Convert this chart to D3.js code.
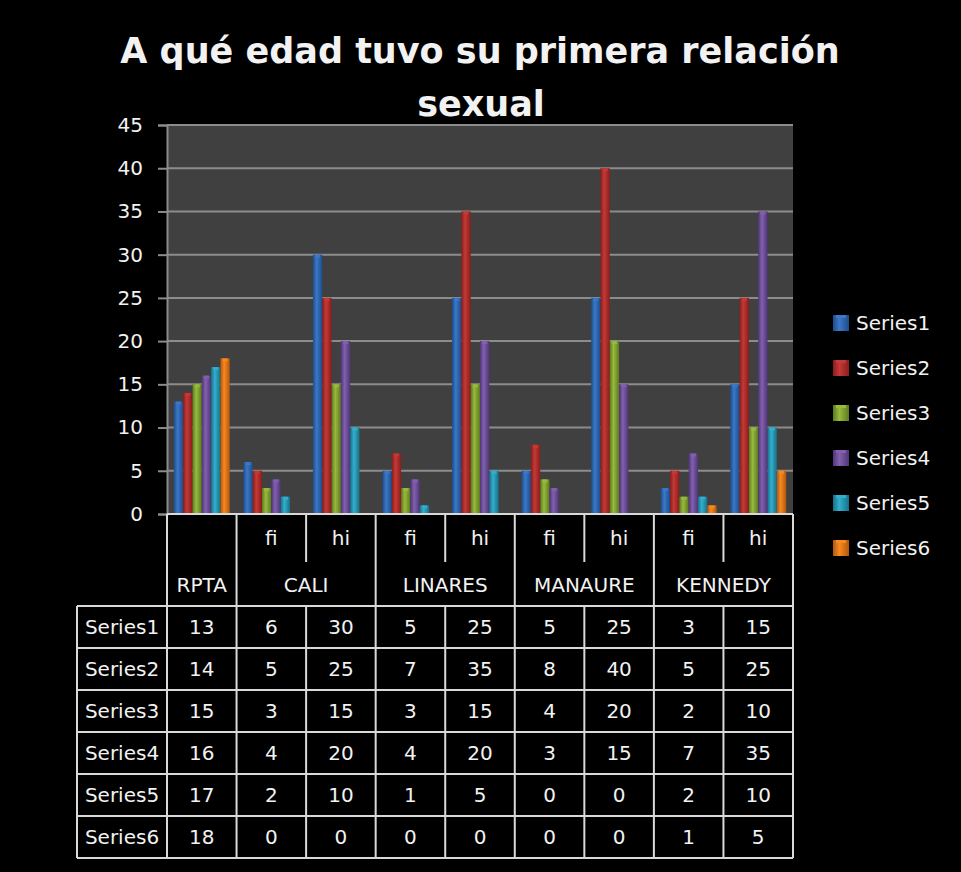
<!DOCTYPE html>
<html>
<head>
<meta charset="utf-8">
<script src="https://cdn.jsdelivr.net/npm/d3@7"></script>
<style>
  body { margin: 0; background: #000; }
  text { font-family: "DejaVu Sans", sans-serif; fill: #f2f2f2; }
</style>
</head>
<body>
<svg id="chart" width="961" height="872"></svg>
<script>
// columns of the chart (one band per column)
var groups = ["RPTA", "CALI", "CALI", "LINARES", "LINARES", "MANAURE", "MANAURE", "KENNEDY", "KENNEDY"];
var subs = ["", "fi", "hi", "fi", "hi", "fi", "hi", "fi", "hi"];
var seriesNames = ["Series1", "Series2", "Series3", "Series4", "Series5", "Series6"];
var series1 = [13, 6, 30, 5, 25, 5, 25, 3, 15];
var series2 = [14, 5, 25, 7, 35, 8, 40, 5, 25];
var series3 = [15, 3, 15, 3, 15, 4, 20, 2, 10];
var series4 = [16, 4, 20, 4, 20, 3, 15, 7, 35];
var series5 = [17, 2, 10, 1, 5, 0, 0, 2, 10];
var series6 = [18, 0, 0, 0, 0, 0, 0, 1, 5];
var yTicks = [0, 5, 10, 15, 20, 25, 30, 35, 40, 45];

var values = [series1, series2, series3, series4, series5, series6];
var colors = [
  ["#1d4c8c", "#3b78c6"],
  ["#8a1c1c", "#c33a36"],
  ["#5c7a1c", "#97ba3f"],
  ["#4f3578", "#8260ad"],
  ["#17708a", "#33afcc"],
  ["#b4560a", "#f58a22"]
];

var svg = d3.select("#chart");
svg.append("rect").attr("width", 961).attr("height", 872).attr("fill", "#000");

var plotLeft = 167, plotRight = 793, plotTop = 125, plotBottom = 514;
var colIdx = d3.range(groups.length);

var x0 = d3.scaleBand().domain(colIdx).range([plotLeft, plotRight]).padding(0);
var x1 = d3.scaleBand().domain(d3.range(seriesNames.length))
  .range([0, x0.bandwidth()]).paddingInner(0).paddingOuter(0.73);
var y = d3.scaleLinear().domain([0, 45]).range([plotBottom, plotTop]);

// title
svg.append("text").attr("x", 480).attr("y", 63).attr("text-anchor", "middle")
  .style("font-weight", "bold").style("font-size", "35px")
  .text("A qué edad tuvo su primera relación");
svg.append("text").attr("x", 481).attr("y", 116).attr("text-anchor", "middle")
  .style("font-weight", "bold").style("font-size", "35px")
  .text("sexual");

// plot area
svg.append("rect").attr("x", plotLeft).attr("y", plotTop)
  .attr("width", plotRight - plotLeft).attr("height", plotBottom - plotTop).attr("fill", "#404040");

svg.append("g").selectAll("line").data(yTicks).enter().append("line")
  .attr("x1", plotLeft).attr("x2", plotRight)
  .attr("y1", function(d) { return y(d); }).attr("y2", function(d) { return y(d); })
  .attr("stroke", "#8c8c8c").attr("stroke-width", 2);

var yAxis = svg.append("g").attr("transform", "translate(" + plotLeft + ",0)")
  .call(d3.axisLeft(y).tickValues(yTicks).tickSize(9).tickPadding(15));
yAxis.select(".domain").attr("stroke", "#8c8c8c").attr("stroke-width", 2);
yAxis.selectAll(".tick line").attr("stroke", "#8c8c8c").attr("stroke-width", 2);
yAxis.selectAll(".tick text").style("font-size", "20px").attr("fill", "#f2f2f2")
  .style("font-family", "DejaVu Sans");

// gradients
var defs = svg.append("defs");
colors.forEach(function(c, i) {
  var g = defs.append("linearGradient").attr("id", "grad" + i)
    .attr("x1", "0%").attr("x2", "100%").attr("y1", "0%").attr("y2", "0%");
  g.append("stop").attr("offset", "0%").attr("stop-color", c[0]);
  g.append("stop").attr("offset", "40%").attr("stop-color", c[1]);
  g.append("stop").attr("offset", "100%").attr("stop-color", c[0]);
});

// bars
var seriesG = svg.append("g").selectAll("g").data(values).enter().append("g");
seriesG.each(function(vals, si) {
  var g = d3.select(this);
  var nz = colIdx.filter(function(ci) { return vals[ci] > 0; });
  g.selectAll("rect.bar").data(nz).enter().append("rect").attr("class", "bar")
    .attr("x", function(ci) { return x0(ci) + x1(si); })
    .attr("y", function(ci) { return y(vals[ci]); })
    .attr("width", x1.bandwidth())
    .attr("height", function(ci) { return plotBottom - y(vals[ci]); })
    .attr("fill", "url(#grad" + si + ")");
  g.selectAll("rect.cap").data(nz).enter().append("rect").attr("class", "cap")
    .attr("x", function(ci) { return x0(ci) + x1(si) + 2; })
    .attr("y", function(ci) { return y(vals[ci]); })
    .attr("width", x1.bandwidth() - 4)
    .attr("height", 3)
    .attr("fill", colors[si][1]).attr("opacity", 0.9);
});

// data table
var lineColor = "#d9d9d9";
var tableLeft = 77, subBottom = 562, headBottom = 606, rowH = 42;
var tbl = svg.append("g").attr("stroke", lineColor).attr("stroke-width", 2);

tbl.append("line").attr("x1", plotLeft).attr("x2", plotRight).attr("y1", plotBottom).attr("y2", plotBottom);
tbl.append("line").attr("x1", tableLeft).attr("x2", plotRight).attr("y1", headBottom).attr("y2", headBottom);
seriesNames.forEach(function(s, i) {
  var yy = headBottom + (i + 1) * rowH;
  tbl.append("line").attr("x1", tableLeft).attr("x2", plotRight).attr("y1", yy).attr("y2", yy);
});
var tableBottom = headBottom + seriesNames.length * rowH;
tbl.append("line").attr("x1", tableLeft).attr("x2", tableLeft).attr("y1", headBottom).attr("y2", tableBottom);

// vertical lines at column edges
colIdx.concat([groups.length]).forEach(function(ci) {
  var xx = ci < groups.length ? x0(ci) : plotRight;
  var groupEdge = ci === 0 || ci === groups.length || groups[ci] !== groups[ci - 1];
  tbl.append("line").attr("x1", xx).attr("x2", xx)
    .attr("y1", plotBottom).attr("y2", groupEdge ? tableBottom : subBottom);
  if (!groupEdge) {
    tbl.append("line").attr("x1", xx).attr("x2", xx).attr("y1", headBottom).attr("y2", tableBottom);
  }
});

// header text
svg.append("g").selectAll("text").data(colIdx.filter(function(ci) { return subs[ci]; }))
  .enter().append("text")
  .attr("x", function(ci) { return x0(ci) + x0.bandwidth() / 2; })
  .attr("y", 538).attr("dy", "0.35em").attr("text-anchor", "middle")
  .style("font-size", "20px").text(function(ci) { return subs[ci]; });

var groupNames = [];
colIdx.forEach(function(ci) {
  if (ci === 0 || groups[ci] !== groups[ci - 1]) groupNames.push({ name: groups[ci], start: ci, end: ci });
  else groupNames[groupNames.length - 1].end = ci;
});
svg.append("g").selectAll("text").data(groupNames).enter().append("text")
  .attr("x", function(d) { return (x0(d.start) + x0(d.end) + x0.bandwidth()) / 2; })
  .attr("y", 585).attr("dy", "0.35em").attr("text-anchor", "middle")
  .style("font-size", "20px").text(function(d) { return d.name; });

// rows
seriesNames.forEach(function(s, si) {
  var cy = headBottom + si * rowH + rowH / 2;
  var row = svg.append("g");
  row.append("text").attr("x", (tableLeft + plotLeft) / 2).attr("y", cy).attr("dy", "0.35em")
    .attr("text-anchor", "middle").style("font-size", "20px").text(s);
  row.selectAll("text.v").data(values[si]).enter().append("text").attr("class", "v")
    .attr("x", function(d, ci) { return x0(ci) + x0.bandwidth() / 2; })
    .attr("y", cy).attr("dy", "0.35em").attr("text-anchor", "middle")
    .style("font-size", "20px").text(function(d) { return d; });
});

// legend
var legend = svg.append("g").selectAll("g").data(seriesNames).enter().append("g")
  .attr("transform", function(d, i) { return "translate(833," + (323 + i * 45) + ")"; });
legend.append("rect").attr("x", 0).attr("y", -8).attr("width", 16).attr("height", 16)
  .attr("fill", function(d, i) { return "url(#grad" + i + ")"; });
legend.append("rect").attr("x", 3).attr("y", -8).attr("width", 10).attr("height", 3)
  .attr("fill", function(d, i) { return colors[i][1]; });
legend.append("text").attr("x", 23).attr("y", 0).attr("dy", "0.35em")
  .style("font-size", "20px").text(function(d) { return d; });
</script>
</body>
</html>
